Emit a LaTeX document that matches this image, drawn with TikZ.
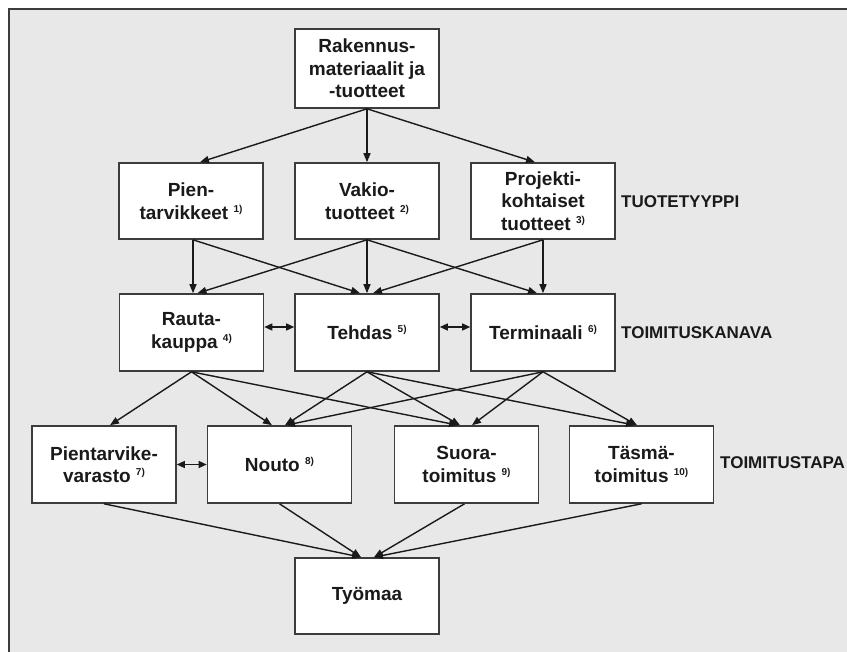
\documentclass[tikz,border=0pt]{standalone}
\usepackage{fontspec}
\setmainfont{Liberation Sans}
\usetikzlibrary{arrows.meta}
\definecolor{bg}{HTML}{E8E8E8}
\definecolor{edge}{HTML}{3C3C3C}
\definecolor{ink}{HTML}{1A1A1A}
\newcommand{\sups}[1]{\ \raisebox{7pt}{\fontsize{10}{10}\selectfont #1}}
\begin{document}
\begin{tikzpicture}[x=1pt,y=-1pt,
 box/.style={draw=edge, line width=1.6pt, fill=white, minimum width=144pt, minimum height=77pt, inner sep=0pt, align=center, font=\fontsize{19}{22.5}\selectfont\bfseries, text=ink},
 lab/.style={anchor=west, inner sep=0pt, text=ink, font=\fontsize{17}{19}\selectfont\bfseries},
 arr/.style={draw=ink, line width=1.4pt, -{Triangle[length=9pt,width=7pt]}},
 darr/.style={draw=ink, line width=1.4pt, {Triangle[length=8pt,width=7pt]}-{Triangle[length=8pt,width=7pt]}}]
\useasboundingbox (0,0) rectangle (847,652);
\fill[bg] (9,9) rectangle (847,652);
\draw[edge, line width=2pt] (9,652) -- (9,9) -- (847,9);

\node[box, minimum height=79pt] (top) at (367,68.5) {Rakennus-\\materiaalit ja\\-tuotteet};

\node[box, minimum height=76pt] (pien) at (191,201) {Pien-\\tarvikkeet\sups{1)}};
\node[box, minimum height=76pt] (vakio) at (367,201) {Vakio-\\tuotteet\sups{2)}};
\node[box, minimum height=76pt] (proj) at (543,201) {Projekti-\\kohtaiset\\tuotteet\sups{3)}};

\node[box] (rauta) at (191.5,332.5) {Rauta-\\kauppa\sups{4)}};
\node[box] (tehdas) at (367,332.5) {Tehdas\sups{5)}};
\node[box] (term) at (543,332.5) {Terminaali\sups{6)}};

\node[box] (varasto) at (104,464.5) {Pientarvike-\\varasto\sups{7)}};
\node[box] (nouto) at (279.5,464.5) {Nouto\sups{8)}};
\node[box] (suora) at (466.5,464.5) {Suora-\\toimitus\sups{9)}};
\node[box] (tasma) at (641.5,464.5) {Täsmä-\\toimitus\sups{10)}};

\node[box, minimum height=76pt] (tyomaa) at (367,596) {Työmaa};

\node[lab] (l1) at (621,202) {TUOTETYYPPI};
\node[lab] (l2) at (621,333) {TOIMITUSKANAVA};
\node[lab] (l3) at (720,463) {TOIMITUSTAPA};

% level 1 -> 2
\draw[arr] (top.south) -- ([xshift=9pt]pien.north);
\draw[arr] (top.south) -- (vakio.north);
\draw[arr] (top.south) -- ([xshift=-8pt]proj.north);

% level 2 -> 3
\draw[arr] ([xshift=2pt]pien.south) -- ([xshift=1.5pt]rauta.north);
\draw[arr] ([xshift=2pt]pien.south) -- ([xshift=-7pt]tehdas.north);
\draw[arr] (vakio.south) -- ([xshift=6pt]rauta.north);
\draw[arr] (vakio.south) -- (tehdas.north);
\draw[arr] (vakio.south) -- ([xshift=-6pt]term.north);
\draw[arr] (proj.south) -- ([xshift=6pt]tehdas.north);
\draw[arr] (proj.south) -- (term.north);

% level 3 horizontal
\draw[darr] ([yshift=5.5pt]rauta.east) -- ([yshift=5.5pt]tehdas.west);
\draw[darr] ([yshift=5.5pt]tehdas.east) -- ([yshift=5.5pt]term.west);
\draw[darr] (varasto.east) -- (nouto.west);

% level 3 -> 4
\draw[arr] (rauta.south) -- ([xshift=6pt]varasto.north);
\draw[arr] (rauta.south) -- ([xshift=-7.5pt]nouto.north);
\draw[arr] (rauta.south) -- ([xshift=-8.5pt]suora.north);
\draw[arr] (tehdas.south) -- ([xshift=5.5pt]nouto.north);
\draw[arr] (tehdas.south) -- ([xshift=-6.5pt]suora.north);
\draw[arr] (tehdas.south) -- ([xshift=-6.5pt]tasma.north);
\draw[arr] (term.south) -- ([xshift=6.5pt]nouto.north);
\draw[arr] (term.south) -- ([xshift=5.5pt]suora.north);
\draw[arr] (term.south) -- ([xshift=-4.5pt]tasma.north);

% level 4 -> 5
\draw[arr] (varasto.south) -- ([xshift=-6pt]tyomaa.north);
\draw[arr] (nouto.south) -- ([xshift=-6pt]tyomaa.north);
\draw[arr] ([xshift=-2pt]suora.south) -- ([xshift=7pt]tyomaa.north);
\draw[arr] (tasma.south) -- ([xshift=7pt]tyomaa.north);
\end{tikzpicture}
\end{document}
